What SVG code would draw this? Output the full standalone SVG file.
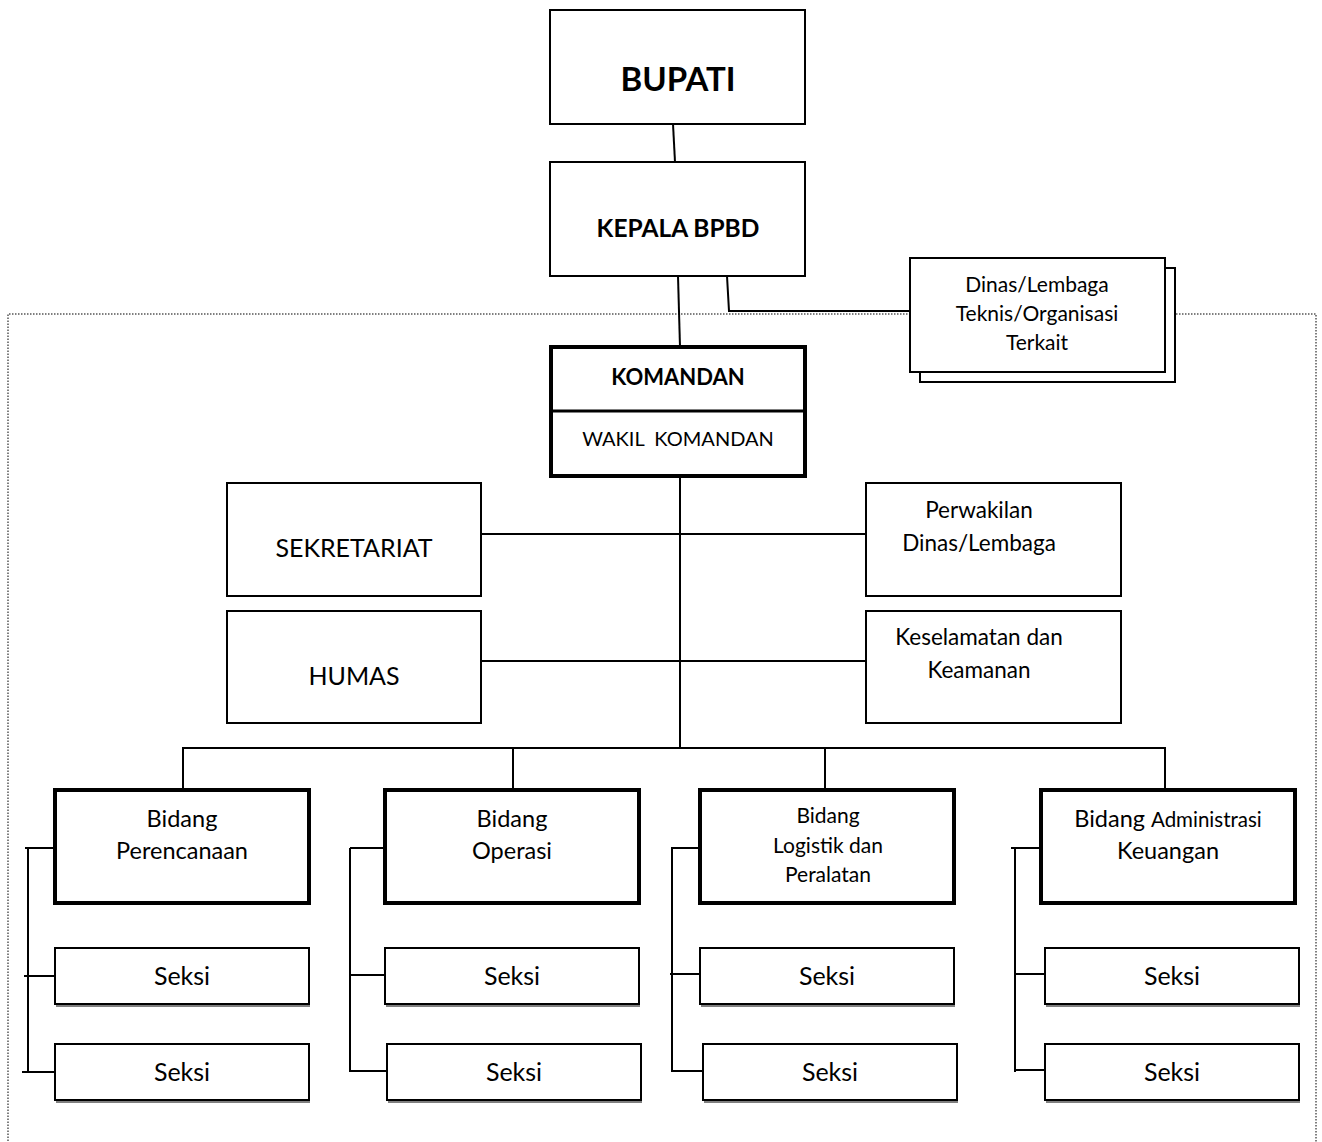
<svg xmlns="http://www.w3.org/2000/svg" width="1322" height="1142" viewBox="0 0 1322 1142">
  <style>
    .box { fill: #ffffff; stroke: #000000; stroke-width: 2; }
    .thick { fill: #ffffff; stroke: #000000; stroke-width: 4; }
    .shadow { fill: none; stroke: #555555; stroke-width: 1.5; }
    .line { fill: none; stroke: #000000; stroke-width: 2; }
    .dots { fill: none; stroke: #555555; stroke-width: 1.5; stroke-dasharray: 1.5 1.5; }
    text { font-family: "Lato", "Open Sans", "Liberation Sans", sans-serif; fill: #000000; text-anchor: middle; }
    .b { font-weight: bold; }
  </style>

  <!-- dotted frame around the command structure -->
  <g id="frame">
    <path class="dots" d="M8,1150 V314 H910 M1176,314 H1316 V1150"/>
  </g>

  <!-- connectors -->
  <g id="connectors">
    <line class="line" x1="673" y1="124" x2="675" y2="162"/>
    <line class="line" x1="678" y1="276" x2="680" y2="347"/>
    <polyline class="line" points="727,276 729,311 911,311"/>
    <line class="line" x1="680" y1="476" x2="680" y2="748"/>
    <line class="line" x1="481" y1="534" x2="866" y2="534"/>
    <line class="line" x1="481" y1="661" x2="870" y2="661"/>
    <polyline class="line" points="183,790 183,748 1165,748 1165,790"/>
    <line class="line" x1="513" y1="748" x2="513" y2="790"/>
    <line class="line" x1="825" y1="748" x2="825" y2="790"/>
    <!-- column brackets -->
    <path class="line" d="M28,848 V1072 M25,848 H57 M24,976 H57 M22,1072 H55"/>
    <path class="line" d="M350,848 V1072 M350,848 H383 M350,975 H385 M350,1071 H387"/>
    <path class="line" d="M672,848 V1072 M671,848 H705 M670,974 H701 M672,1071 H703"/>
    <path class="line" d="M1015,848 V1072 M1011,848 H1043 M1015,974 H1047 M1015,1070 H1047"/>
  </g>

  <g id="bupati">
    <rect class="box" x="550" y="10" width="255" height="114"/>
    <text class="b" x="678" y="91" font-size="33">BUPATI</text>
  </g>

  <g id="kepala">
    <rect class="box" x="550" y="162" width="255" height="114"/>
    <text class="b" x="678" y="237" font-size="24.5">KEPALA BPBD</text>
  </g>

  <g id="dinas-terkait">
    <rect class="box" x="920" y="268" width="255" height="114"/>
    <rect class="box" x="910" y="258" width="255" height="114"/>
    <text x="1037" y="292" font-size="21">Dinas/Lembaga</text>
    <text x="1037" y="321" font-size="21">Teknis/Organisasi</text>
    <text x="1037" y="350" font-size="21">Terkait</text>
  </g>

  <g id="komandan">
    <rect class="thick" x="551" y="347" width="254" height="129"/>
    <line x1="551" y1="411" x2="805" y2="411" stroke="#000" stroke-width="3"/>
    <text class="b" x="678" y="385" font-size="22">KOMANDAN</text>
    <text x="678" y="446" font-size="20" xml:space="preserve">WAKIL  KOMANDAN</text>
  </g>

  <g id="sekretariat">
    <rect class="box" x="227" y="483" width="254" height="113"/>
    <text x="354" y="557" font-size="25">SEKRETARIAT</text>
  </g>

  <g id="perwakilan">
    <rect class="box" x="866" y="483" width="255" height="113"/>
    <text x="979" y="518" font-size="22.5">Perwakilan</text>
    <text x="979" y="551" font-size="22.5">Dinas/Lembaga</text>
  </g>

  <g id="humas">
    <rect class="box" x="227" y="611" width="254" height="112"/>
    <text x="354" y="685" font-size="25">HUMAS</text>
  </g>

  <g id="keselamatan">
    <rect class="box" x="866" y="611" width="255" height="112"/>
    <text x="979" y="645" font-size="22.5">Keselamatan dan</text>
    <text x="979" y="678" font-size="22.5">Keamanan</text>
  </g>

  <g id="bidang-perencanaan">
    <rect class="thick" x="55" y="790" width="254" height="113"/>
    <text x="182" y="827" font-size="23.5">Bidang</text>
    <text x="182" y="859" font-size="23.5">Perencanaan</text>
  </g>

  <g id="bidang-operasi">
    <rect class="thick" x="385" y="790" width="254" height="113"/>
    <text x="512" y="827" font-size="23.5">Bidang</text>
    <text x="512" y="859" font-size="23.5">Operasi</text>
  </g>

  <g id="bidang-logistik">
    <rect class="thick" x="700" y="790" width="254" height="113"/>
    <text x="828" y="823" font-size="21">Bidang</text>
    <text x="828" y="853" font-size="21">Logistik dan</text>
    <text x="828" y="882" font-size="21">Peralatan</text>
  </g>

  <g id="bidang-administrasi">
    <rect class="thick" x="1041" y="790" width="254" height="113"/>
    <text x="1168" y="827" font-size="23.5">Bidang <tspan font-size="20.5">Administrasi</tspan></text>
    <text x="1168" y="859" font-size="23.5">Keuangan</text>
  </g>

  <!-- section boxes -->
  <g id="seksi-1a">
    <line class="shadow" x1="56" y1="1006" x2="310" y2="1006"/>
    <rect class="box" x="55" y="948" width="254" height="56"/>
    <text x="182" y="985" font-size="25">Seksi</text>
  </g>
  <g id="seksi-1b">
    <line class="shadow" x1="56" y1="1102" x2="310" y2="1102"/>
    <rect class="box" x="55" y="1044" width="254" height="56"/>
    <text x="182" y="1081" font-size="25">Seksi</text>
  </g>
  <g id="seksi-2a">
    <line class="shadow" x1="386" y1="1006" x2="640" y2="1006"/>
    <rect class="box" x="385" y="948" width="254" height="56"/>
    <text x="512" y="985" font-size="25">Seksi</text>
  </g>
  <g id="seksi-2b">
    <line class="shadow" x1="388" y1="1102" x2="642" y2="1102"/>
    <rect class="box" x="387" y="1044" width="254" height="56"/>
    <text x="514" y="1081" font-size="25">Seksi</text>
  </g>
  <g id="seksi-3a">
    <line class="shadow" x1="701" y1="1006" x2="955" y2="1006"/>
    <rect class="box" x="700" y="948" width="254" height="56"/>
    <text x="827" y="985" font-size="25">Seksi</text>
  </g>
  <g id="seksi-3b">
    <line class="shadow" x1="704" y1="1102" x2="958" y2="1102"/>
    <rect class="box" x="703" y="1044" width="254" height="56"/>
    <text x="830" y="1081" font-size="25">Seksi</text>
  </g>
  <g id="seksi-4a">
    <line class="shadow" x1="1046" y1="1006" x2="1300" y2="1006"/>
    <rect class="box" x="1045" y="948" width="254" height="56"/>
    <text x="1172" y="985" font-size="25">Seksi</text>
  </g>
  <g id="seksi-4b">
    <line class="shadow" x1="1046" y1="1102" x2="1300" y2="1102"/>
    <rect class="box" x="1045" y="1044" width="254" height="56"/>
    <text x="1172" y="1081" font-size="25">Seksi</text>
  </g>
</svg>
